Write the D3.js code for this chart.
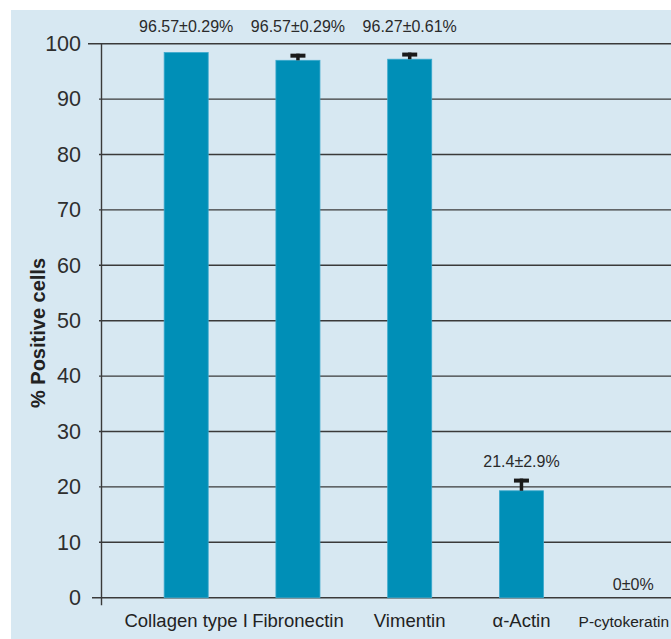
<!DOCTYPE html>
<html>
<head>
<meta charset="utf-8">
<script src="https://cdn.jsdelivr.net/npm/d3@7"></script>
<style>
  html, body { margin: 0; padding: 0; background: #ffffff; }
  svg { display: block; font-family: "Liberation Sans", Arial, sans-serif; }
</style>
</head>
<body>
<svg id="chart" width="671" height="639"></svg>
<script>
// ---- data ----
const categories = ["Collagen type I", "Fibronectin", "Vimentin", "\u03B1-Actin", "P-cytokeratin"];
const values = [98.4, 97.0, 97.2, 19.3, 0];
const errors = [0, 1.2, 1.2, 2.2, 0];
const annotations = ["96.57\u00B10.29%", "96.57\u00B10.29%", "96.27\u00B10.61%", "21.4\u00B12.9%", "0\u00B10%"];
const yTicks = [0, 10, 20, 30, 40, 50, 60, 70, 80, 90, 100];
const yTitle = "% Positive cells";

// ---- layout ----
const W = 671, H = 639;
const svg = d3.select("#chart");

svg.append("rect")
  .attr("x", 11).attr("y", 10)
  .attr("width", W - 11).attr("height", H - 10)
  .attr("fill", "#d7e8f2");

const y = d3.scaleLinear().domain([0, 100]).range([597.7, 43.7]);
const x = d3.scaleBand()
  .domain(categories)
  .range([130.3, 689.1])
  .paddingInner(0.606)
  .paddingOuter(0.303);
const cx = c => x(c) + x.bandwidth() / 2;

const axisX = 101.5;

// gridlines
svg.append("g").selectAll("line")
  .data(yTicks)
  .join("line")
  .attr("x1", d => d === 100 ? 88 : (d === 0 ? 92 : 99))
  .attr("x2", W)
  .attr("y1", d => y(d))
  .attr("y2", d => y(d))
  .attr("stroke", "#3a3a3a")
  .attr("stroke-width", 1.4);

// y axis labels via d3 axis
const yAxis = d3.axisLeft(y).tickValues(yTicks).tickSize(0).tickPadding(0);
const gy = svg.append("g")
  .attr("transform", `translate(81,0)`)
  .call(yAxis);
gy.select(".domain").remove();
gy.selectAll("text")
  .attr("font-size", "21.5px")
  .attr("fill", "#2e2e2e")
  .attr("font-family", "'Liberation Sans', Arial, sans-serif");

// axis vertical line
svg.append("line")
  .attr("x1", axisX).attr("x2", axisX)
  .attr("y1", y(100)).attr("y2", y(0) + 7.5)
  .attr("stroke", "#3a3a3a")
  .attr("stroke-width", 1.4);

// bars
const idx = d3.range(categories.length);
svg.append("g").selectAll("rect")
  .data(idx)
  .join("rect")
  .attr("x", i => x(categories[i]))
  .attr("width", x.bandwidth())
  .attr("y", i => y(values[i]))
  .attr("height", i => y(0) - y(values[i]))
  .attr("fill", "#008fb7")
  .attr("stroke", "#3aa8cc")
  .attr("stroke-width", 0.8);

// error bars
const eb = svg.append("g");
const withErr = idx.filter(i => errors[i] > 0);
eb.selectAll("line.stem")
  .data(withErr)
  .join("line")
  .attr("class", "stem")
  .attr("x1", i => cx(categories[i]))
  .attr("x2", i => cx(categories[i]))
  .attr("y1", i => y(values[i]))
  .attr("y2", i => y(values[i] + errors[i]))
  .attr("stroke", "#1a1a1a")
  .attr("stroke-width", 3.5);
eb.selectAll("rect.cap")
  .data(withErr)
  .join("rect")
  .attr("class", "cap")
  .attr("x", i => cx(categories[i]) - 7.5)
  .attr("width", 15)
  .attr("y", i => y(values[i] + errors[i]))
  .attr("height", 4)
  .attr("fill", "#1a1a1a");

// annotations
svg.append("g").selectAll("text")
  .data(idx)
  .join("text")
  .attr("x", i => cx(categories[i]))
  .attr("y", i => {
    const top = values[i] + errors[i];
    if (top > 90) return y(100) - 12;
    return y(top) - (errors[i] > 0 ? 12 : 8);
  })
  .attr("text-anchor", "middle")
  .attr("font-size", "16px")
  .attr("fill", "#2a2a2a")
  .text(i => annotations[i]);

// category labels
const catLabels = svg.append("g").selectAll("text")
  .data(idx)
  .join("text")
  .attr("x", i => cx(categories[i]))
  .attr("y", 627)
  .attr("text-anchor", "middle")
  .attr("font-size", i => i === categories.length - 1 ? "15.5px" : "18.5px")
  .attr("fill", "#222")
  .text(i => categories[i]);
// keep the last label inside the picture
catLabels.each(function (i) {
  const w = this.getComputedTextLength();
  const c = cx(categories[i]);
  if (c + w / 2 > W - 2) d3.select(this).attr("x", W - 2 - w / 2);
});

// y title
svg.append("text")
  .attr("transform", "translate(45,333) rotate(-90)")
  .attr("text-anchor", "middle")
  .attr("font-size", "20px")
  .attr("font-weight", "bold")
  .attr("fill", "#222")
  .text(yTitle);
</script>
</body>
</html>
